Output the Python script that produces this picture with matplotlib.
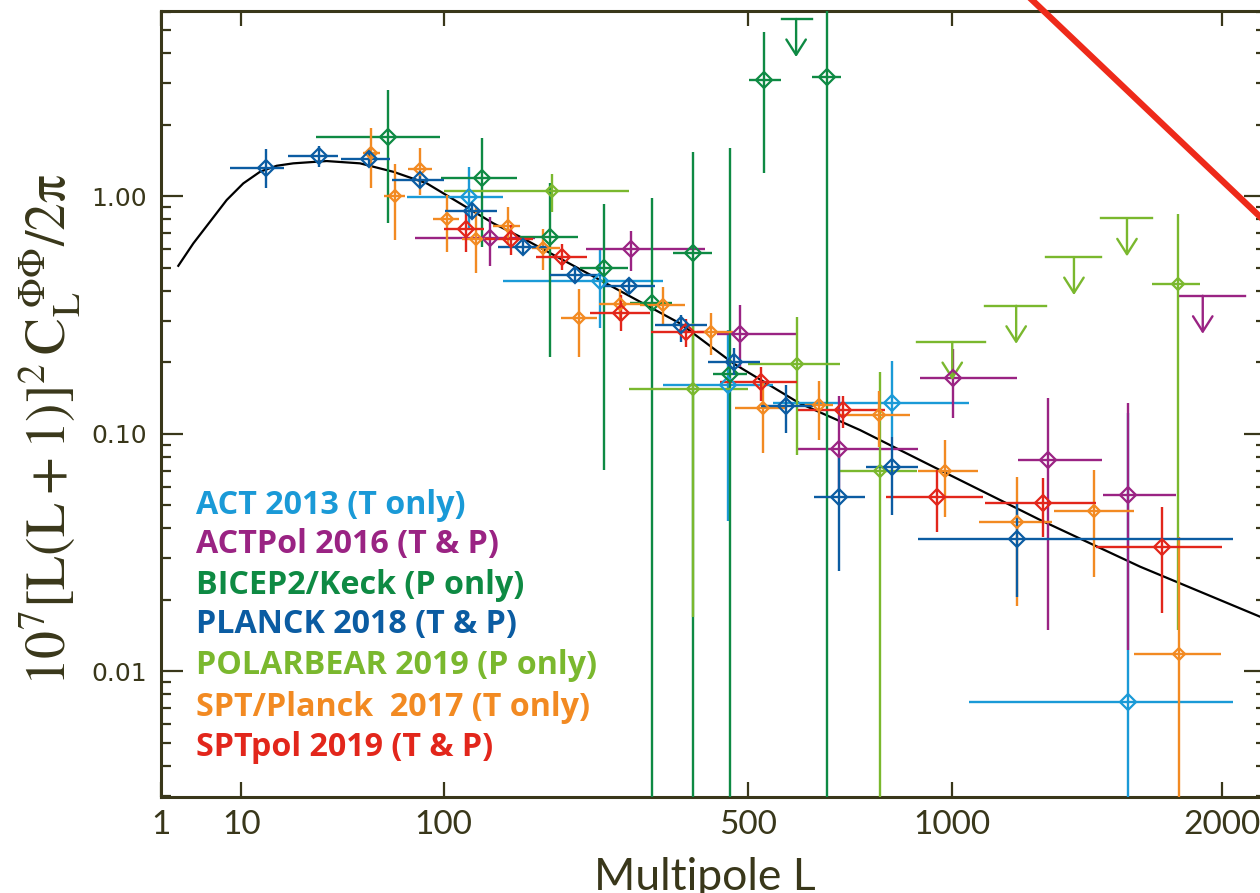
import numpy as np
import matplotlib.pyplot as plt
from matplotlib.ticker import NullLocator, NullFormatter, FixedLocator, FixedFormatter
from matplotlib.transforms import offset_copy

plt.rcParams['mathtext.fontset'] = 'stix'

# ---- data ----
# PLANCK 2018 (T & P)
L_pl = [15.3, 31.3, 53.4, 83.1, 122, 169.5, 228, 299, 380, 474, 578, 698, 830, 1204]
Llo_pl = [8, 21, 40, 66, 101, 145, 199, 264, 339, 426, 526, 639, 763, 902]
Lhi_pl = [20, 39, 65, 100, 144, 198, 263, 338, 425, 525, 638, 762, 901, 2048]
C_pl = [1.319, 1.482, 1.432, 1.168, 0.867, 0.610, 0.465, 0.419, 0.287, 0.201, 0.131, 0.054, 0.0723, 0.036]
lo_pl = [1.081, 1.332, 1.332, 1.091, 0.800, 0.566, 0.433, 0.391, 0.244, 0.177, 0.1005, 0.0265, 0.0455, 0.0206]
hi_pl = [1.577, 1.633, 1.521, 1.241, 0.940, 0.650, 0.499, 0.450, 0.316, 0.229, 0.1605, 0.080, 0.0972, 0.0506]

# ACT 2013 (T only)
L_act = [120, 260, 462, 831, 1605]
Llo_act = [75, 150, 350, 550, 1050]
Lhi_act = [150, 350, 550, 1050, 2050]
C_act = [0.996, 0.44, 0.160, 0.1344, 0.00745]
lo_act = [0.735, 0.278, 0.0431, 0.097, 0.001]
hi_act = [1.332, 0.598, 0.2735, 0.203, 0.122]

# ACTPol 2016 (T & P)
L_ap = [138, 302, 485, 698, 1003, 1308, 1605]
Llo_ap = [80, 241, 442, 604, 906, 1205, 1507]
Lhi_ap = [182, 421, 599, 901, 1202, 1504, 1798]
C_ap = [0.666, 0.602, 0.2645, 0.086, 0.172, 0.078, 0.0552]
lo_ap = [0.510, 0.486, 0.1916, 0.0578, 0.1162, 0.0149, 0.0123]
hi_ap = [0.821, 0.714, 0.3485, 0.1446, 0.2276, 0.141, 0.135]
ul_ap = [(1914, 1814, 2104, 0.3815)]

# BICEP2/Keck (P only)
L_bk = [63.6, 131, 199, 265, 333, 400, 467, 533, 669]
Llo_bk = [30.2, 97.8, 166.7, 234, 301, 367, 435, 502, 636]
Lhi_bk = [97.3, 164, 232, 298.5, 365, 433, 499, 567, 702]
C_bk = [1.772, 1.191, 0.674, 0.500, 0.354, 0.575, 0.1786, 3.08, 3.19]
lo_bk = [0.770, 0.614, 0.211, 0.0703, 0.001, 0.001, 0.001, 1.25, 0.001]
hi_bk = [2.80, 1.765, 1.141, 0.928, 0.981, 1.541, 1.602, 4.90, 10]
ul_bk = [(600, 569, 635, 5.58)]

# POLARBEAR 2019 (P only)
L_pb = [200.6, 400, 601.5, 801, 1806]
Llo_pb = [100, 300, 500, 700, 1700]
Lhi_pb = [300, 500, 700, 900, 1900]
C_pb = [1.05, 0.1544, 0.196, 0.0697, 0.426]
lo_pb = [0.856, 0.01688, 0.0814, 0.001, 0.0149]
hi_pb = [1.238, 0.292, 0.3093, 0.1826, 0.840]
ul_pb = [(1000, 900, 1100, 0.2435), (1200, 1100, 1300, 0.3462),
         (1400, 1300, 1500, 0.555), (1600, 1500, 1700, 0.808)]

# SPT/Planck 2017 (T only)
L_sp = [54.4, 67.8, 83.3, 102.3, 125.8, 155, 190.6, 233, 287, 351.5, 431.5, 530, 650.5, 798, 980, 1203, 1474, 1810]
Llo_sp = [50.4, 61.4, 75.7, 92.4, 114, 141, 178.9, 211, 258, 315.6, 406.5, 476, 620, 700, 901, 1082, 1329, 1629]
Lhi_sp = [59.2, 73.6, 91.3, 112, 138, 166.7, 210, 256, 315.6, 387, 472.6, 576, 684, 880, 1078, 1322, 1626, 1993]
C_sp = [1.517, 1.006, 1.303, 0.802, 0.659, 0.752, 0.6075, 0.308, 0.352, 0.3485, 0.269, 0.128, 0.1322, 0.12, 0.0695, 0.0427, 0.0475, 0.0118]
lo_sp = [1.081, 0.655, 1.013, 0.584, 0.477, 0.624, 0.488, 0.211, 0.300, 0.287, 0.2147, 0.0828, 0.0942, 0.0883, 0.0448, 0.0189, 0.0249, 0.001]
hi_sp = [1.945, 1.363, 1.593, 1.013, 0.904, 0.904, 0.726, 0.406, 0.406, 0.414, 0.3216, 0.1632, 0.1672, 0.152, 0.0942, 0.066, 0.0703, 0.0368]

# SPTpol 2019 (T & P)
L_st = [117.4, 158, 212.8, 288, 388.3, 526, 706.5, 955, 1289, 1740]
Llo_st = [100, 133.6, 183, 246, 332, 447.6, 604, 815, 1099, 1481]
Lhi_st = [133, 180.5, 243, 330, 425, 601.5, 813, 1095, 1480, 1998]
C_st = [0.726, 0.659, 0.555, 0.3236, 0.269, 0.1648, 0.126, 0.0543, 0.0513, 0.0335]
lo_st = [0.584, 0.566, 0.488, 0.2717, 0.2326, 0.1376, 0.1055, 0.0387, 0.0368, 0.0177]
hi_st = [0.876, 0.757, 0.628, 0.384, 0.3034, 0.1916, 0.1446, 0.0703, 0.0654, 0.049]

# theory curve
L_th = [2.04, 3.30, 5.14, 7.49, 10.38, 13.87, 17.97, 22.7, 34.3, 48.9, 66.6, 87.9, 112.6, 141, 166.7,
        259.7, 378, 472.6, 608, 749, 964, 1281, 1652, 2174]
C_th = [0.510, 0.634, 0.782, 0.965, 1.134, 1.269, 1.345, 1.377, 1.408, 1.377, 1.269, 1.134, 0.934, 0.770, 0.676,
        0.444, 0.292, 0.198, 0.1344, 0.1038, 0.0704, 0.0434, 0.0276, 0.0170]

# red line (runs past the top of the frame)
L_red = [1218, 2174]
C_red = [7.39, 0.821]

labels = ['ACT 2013 (T only)', 'ACTPol 2016 (T & P)', 'BICEP2/Keck (P only)', 'PLANCK 2018 (T & P)',
          'POLARBEAR 2019 (P only)', 'SPT/Planck  2017 (T only)', 'SPTpol 2019 (T & P)']
colors = ['#1A9AD7', '#9A2383', '#0E8A43', '#0B5CA2', '#7AB82E', '#F28A22', '#E2261B']
olive = '#39371A'


def fwd(x):
    x = np.asarray(x, dtype=float)
    return np.sign(x) * np.abs(x) ** 0.4


def inv(y):
    y = np.asarray(y, dtype=float)
    return np.sign(y) * np.abs(y) ** 2.5


W, H = 1260, 893
fig = plt.figure(figsize=(W / 100, H / 100), dpi=100)
ax = fig.add_axes([160.7 / W, (H - 797) / H, (1265.5 - 160.7) / W, (797 - 11) / H])
ax.set_xscale('function', functions=(fwd, inv))
ax.set_yscale('log')
ax.set_xlim(1, 2200)
ax.set_ylim(0.00296, 6.03)


def draw(L, Llo, Lhi, C, lo, hi, col, ms):
    L, Llo, Lhi = np.array(L), np.array(Llo), np.array(Lhi)
    C, lo, hi = np.array(C), np.array(lo), np.array(hi)
    ax.errorbar(L, C, xerr=[L - Llo, Lhi - L], yerr=[C - lo, hi - C], fmt='D', mfc='none',
                mec=col, mew=1.6, ms=ms, color=col, elinewidth=1.7, capsize=0, zorder=3)


def limits(ul, col):
    down = offset_copy(ax.transData, fig=fig, x=0, y=-38, units='dots')
    for Lc, a, b, v in ul:
        ax.plot([a, b], [v, v], color=col, lw=1.7, zorder=3)
        ax.annotate('', xy=(Lc, v), xycoords=down, xytext=(Lc, v), textcoords='data',
                    arrowprops=dict(arrowstyle='->,head_length=0.55,head_width=0.35', color=col,
                                    lw=1.7, shrinkA=0, shrinkB=0, mutation_scale=20), zorder=3)


ax.plot(L_th, C_th, color='black', lw=1.6, zorder=2)
ax.plot(L_red, C_red, color='#EE2A1A', lw=4.5, zorder=4, clip_on=False)

draw(L_act, Llo_act, Lhi_act, C_act, lo_act, hi_act, colors[0], 8.5)
draw(L_ap, Llo_ap, Lhi_ap, C_ap, lo_ap, hi_ap, colors[1], 8.5)
limits(ul_ap, colors[1])
draw(L_bk, Llo_bk, Lhi_bk, C_bk, lo_bk, hi_bk, colors[2], 8.5)
limits(ul_bk, colors[2])
draw(L_pb, Llo_pb, Lhi_pb, C_pb, lo_pb, hi_pb, colors[4], 6.5)
limits(ul_pb, colors[4])
draw(L_sp, Llo_sp, Lhi_sp, C_sp, lo_sp, hi_sp, colors[5], 6.5)
draw(L_st, Llo_st, Lhi_st, C_st, lo_st, hi_st, colors[6], 8.5)
draw(L_pl, Llo_pl, Lhi_pl, C_pl, lo_pl, hi_pl, colors[3], 8.5)

# axes styling
for s in ax.spines.values():
    s.set_color(olive)
    s.set_linewidth(2.2)
ax.xaxis.set_major_locator(FixedLocator([1, 10, 100, 500, 1000, 2000]))
ax.xaxis.set_major_formatter(FixedFormatter(['1', '10', '100', '500', '1000', '2000']))
ax.xaxis.set_minor_locator(NullLocator())
ax.set_yticks([0.01, 0.1, 1])
ax.set_yticklabels(['0.01', '0.10', '1.00'])
ax.yaxis.set_minor_formatter(NullFormatter())
ax.tick_params(which='both', direction='in', top=True, right=True, color=olive, labelcolor=olive)
ax.tick_params(axis='x', which='major', length=10.8, width=1.6, labelsize=24, pad=9)
ax.tick_params(axis='y', which='major', length=15.8, width=1.6, labelsize=18, pad=10)
ax.tick_params(axis='y', which='minor', length=7.5, width=1.6)
for t in ax.get_xticklabels():
    t.set_fontfamily(['Lato', 'DejaVu Sans'])
for t in ax.get_yticklabels():
    t.set_fontfamily(['DejaVu Sans'])

fig.text(705 / W, 1 - 857 / H, 'Multipole L', ha='center', va='top', fontsize=32,
         color=olive, family=['Lato', 'DejaVu Sans'])
fig.text(50 / W, 1 - 430 / H, r'$10^7[\mathrm{L(L}+1)]^2\,\mathrm{C}_\mathrm{L}^{\ \Phi\Phi}/2\mathrm{π}$',
         rotation=90, ha='center', va='center', fontsize=40, color=olive)

# legend as coloured text
rows_y = [505, 545, 585, 625, 666, 707, 748]
for lab, col, yp in zip(labels, colors, rows_y):
    fig.text(196 / W, 1 - yp / H, lab, ha='left', va='center', fontsize=23.2,
             fontweight='bold', color=col, family=['Open Sans', 'DejaVu Sans'])

fig.savefig('out.png', dpi=100, facecolor='white')
